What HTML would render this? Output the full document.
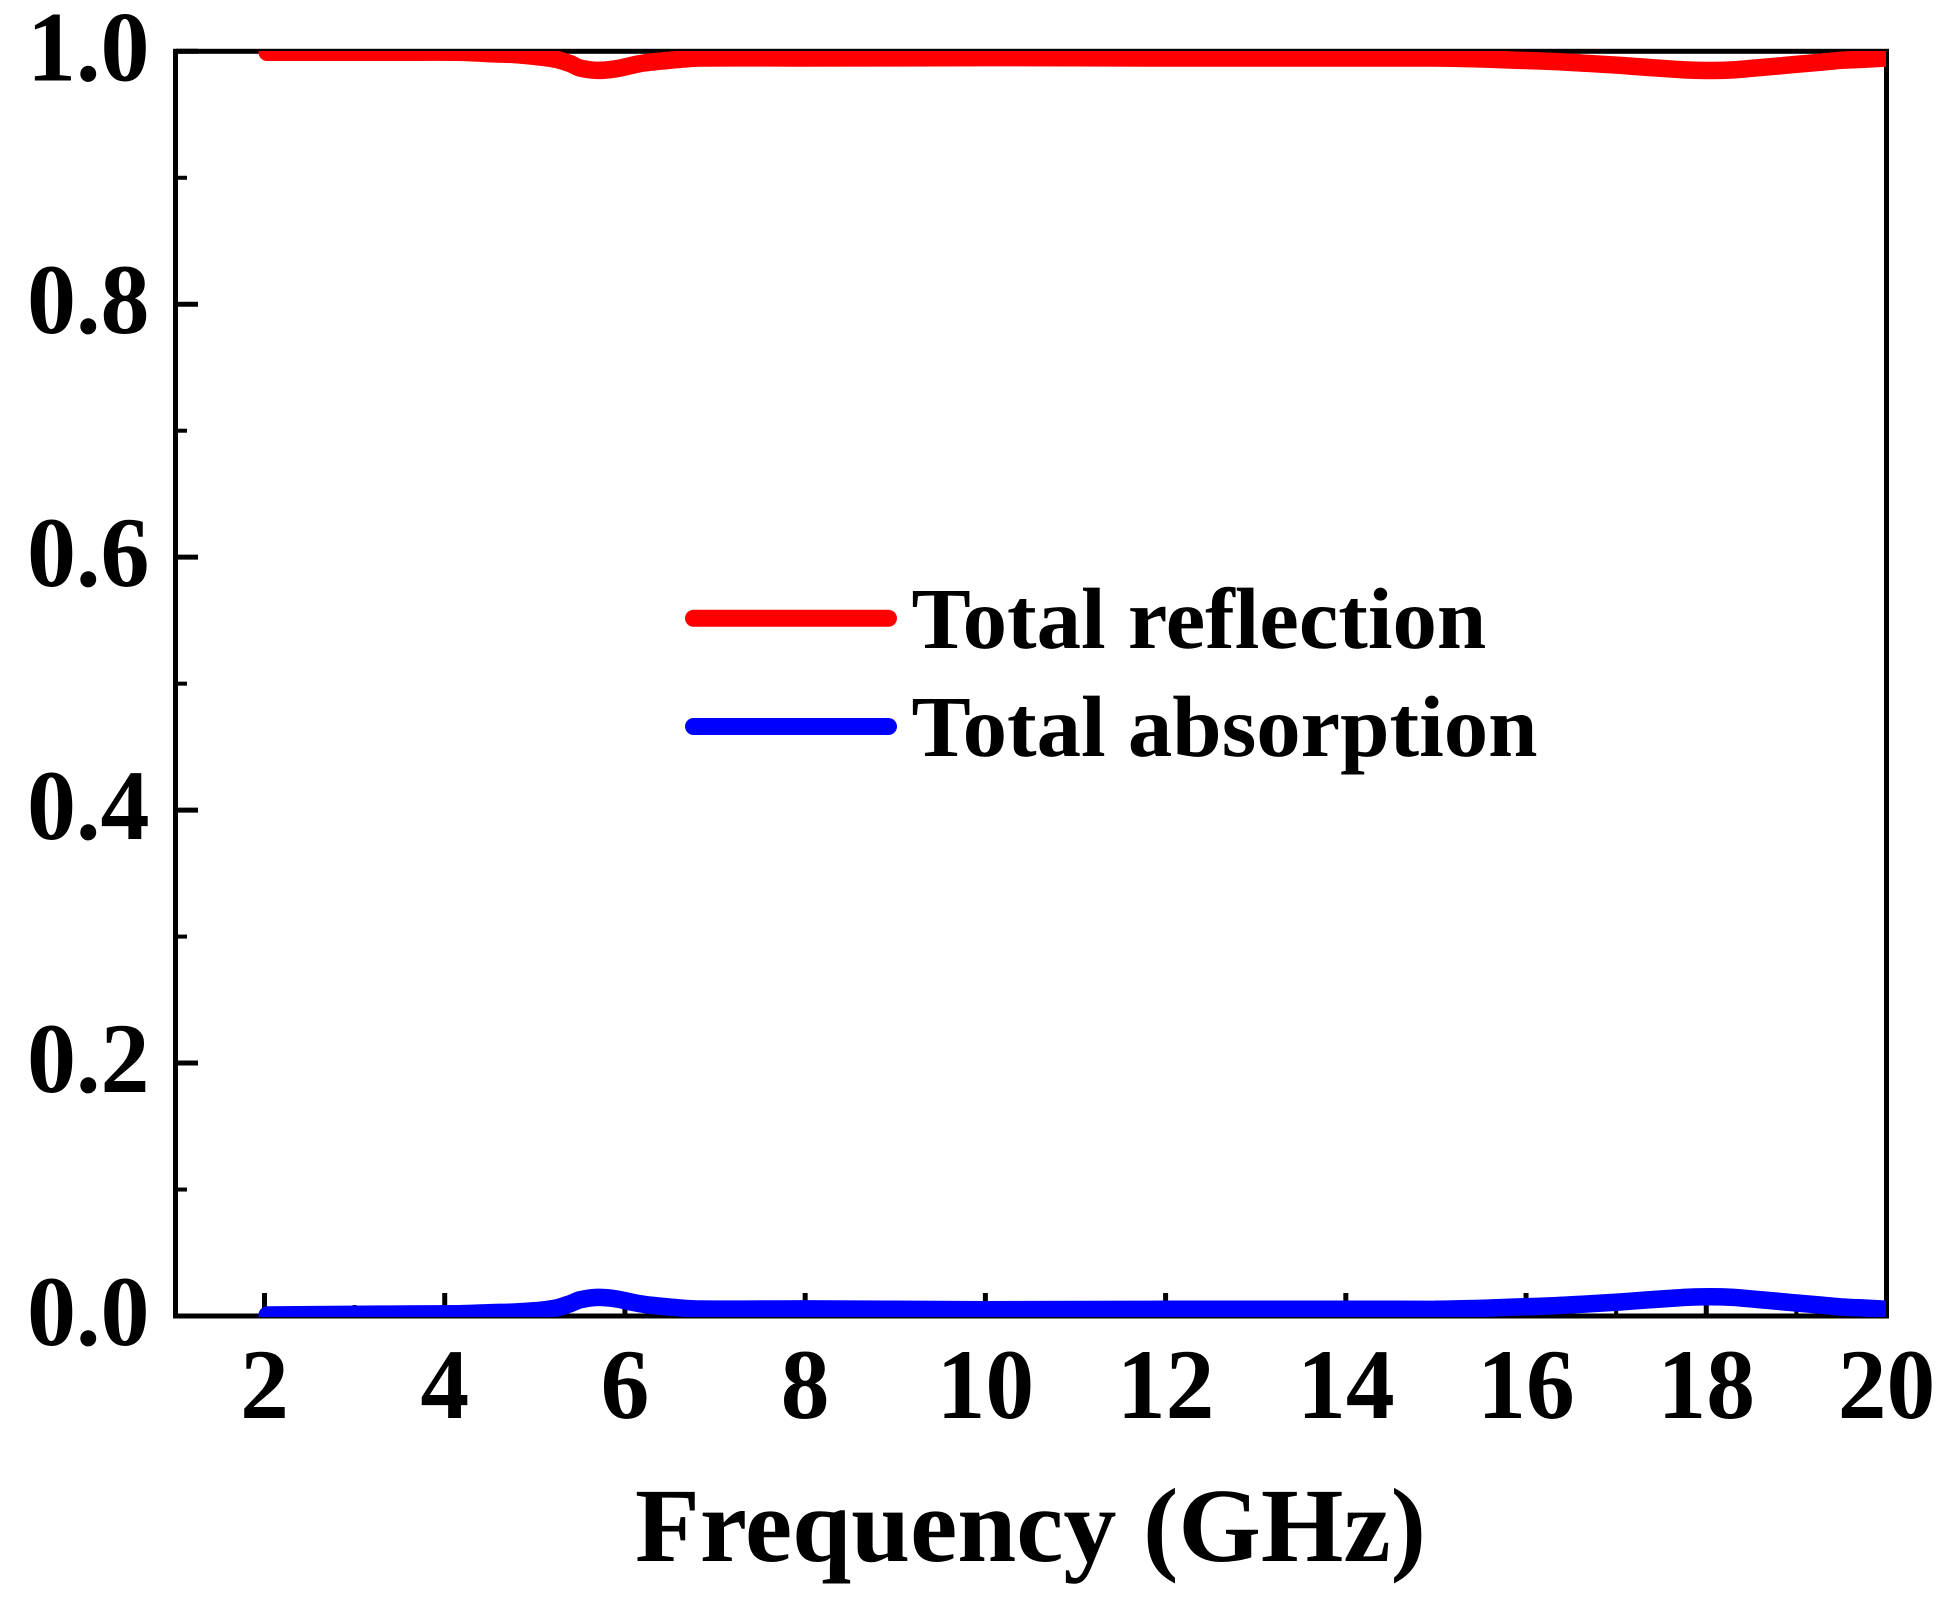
<!DOCTYPE html>
<html lang="en">
<head>
<meta charset="utf-8">
<title>Total reflection and absorption vs frequency</title>
<style>
  html, body { margin: 0; padding: 0; background: #fff; }
  svg { display: block; }
  text { font-family: "Liberation Serif", "Times New Roman", serif; font-weight: 700; fill: #000; text-rendering: geometricPrecision; }
</style>
</head>
<body>
<svg id="chart" xmlns="http://www.w3.org/2000/svg" width="1947" height="1606" viewBox="0 0 1947 1606">
  <rect x="0" y="0" width="1947" height="1606" fill="#ffffff"/>
  <defs>
    <clipPath id="plot-clip"><rect x="175.5" y="51" width="1710.5" height="1266"/></clipPath>
  </defs>
  <g id="ticks"></g>
  <rect x="175.5" y="51.3" width="1711" height="1264.7" fill="none" stroke="#000" stroke-width="5"/>
  <g id="labels"></g>
  <g id="series" clip-path="url(#plot-clip)"></g>
  <text transform="translate(635 1561) scale(1.006 1)" font-size="105.5">Frequency (GHz)</text>
  <g>
    <line x1="693.5" y1="618.3" x2="888.5" y2="618.3" stroke="#ff0000" stroke-width="17" stroke-linecap="round"/>
    <text transform="translate(911.5 648) scale(1.021 1)" font-size="87">Total reflection</text>
    <line x1="693.5" y1="726.5" x2="888.5" y2="726.5" stroke="#0000ff" stroke-width="17" stroke-linecap="round"/>
    <text transform="translate(911.5 756) scale(1.021 1)" font-size="87">Total absorption</text>
  </g>
</svg>
<script>
const frequency = [2.03, 3.4, 4.16, 4.48, 4.78, 5.08, 5.25, 5.4, 5.5, 5.7, 5.9, 6.2, 6.58, 6.83, 8, 9, 10, 12, 14, 15, 15.53, 15.82, 16.24, 16.67, 17.04, 17.35, 17.66, 17.8, 18.05, 18.3, 18.47, 18.76, 19, 19.26, 19.5, 19.75, 20];
const totalReflection = [0.9992, 0.9992, 0.9992, 0.9982, 0.9974, 0.9953, 0.9934, 0.9900, 0.9868, 0.9849, 0.9862, 0.9907, 0.9934, 0.9947, 0.9947, 0.9948, 0.9950, 0.9947, 0.9947, 0.9947, 0.9939, 0.9931, 0.9921, 0.9905, 0.9889, 0.9873, 0.9858, 0.9852, 0.9848, 0.9853, 0.9863, 0.9881, 0.9897, 0.9913, 0.9929, 0.9937, 0.9947];
const totalAbsorption = [0.0008, 0.0015, 0.0018, 0.0026, 0.0032, 0.0047, 0.0066, 0.0100, 0.0128, 0.0147, 0.0135, 0.0093, 0.0066, 0.0055, 0.0056, 0.0053, 0.0050, 0.0053, 0.0053, 0.0053, 0.0061, 0.0069, 0.0079, 0.0095, 0.0111, 0.0127, 0.0142, 0.0148, 0.0152, 0.0147, 0.0137, 0.0119, 0.0103, 0.0087, 0.0071, 0.0063, 0.0053];
const xMajorTicks = [2, 4, 6, 8, 10, 12, 14, 16, 18, 20];
const xMinorTicks = [3, 5, 7, 9, 11, 13, 15, 17, 19];
const yMajorTicks = [0, 0.2, 0.4, 0.6, 0.8, 1];
const yMinorTicks = [0.1, 0.3, 0.5, 0.7, 0.9];
const xTickLabels = ["2", "4", "6", "8", "10", "12", "14", "16", "18", "20"];
const yTickLabels = ["0.0", "0.2", "0.4", "0.6", "0.8", "1.0"];

const SVG_NS = "http://www.w3.org/2000/svg";
function xScale(f) { return 264.5 + (f - 2) * 90.11; }
function yScale(v) { return 1316 - v * 1264.7; }

const tickGroup = document.getElementById("ticks");
const labelGroup = document.getElementById("labels");
const seriesGroup = document.getElementById("series");

function addTick(x1, y1, x2, y2, width, name) {
  const t = document.createElementNS(SVG_NS, "line");
  t.setAttribute("x1", x1);
  t.setAttribute("y1", y1);
  t.setAttribute("x2", x2);
  t.setAttribute("y2", y2);
  t.setAttribute("stroke", "#000");
  t.setAttribute("stroke-width", width);
  
  
  tickGroup.appendChild(t);
}
xMajorTicks.forEach(function (f) { addTick(xScale(f), 1316, xScale(f), 1293, 5, "x-major-tick"); });
xMinorTicks.forEach(function (f) { addTick(xScale(f), 1316, xScale(f), 1305, 4, "x-minor-tick"); });
yMajorTicks.forEach(function (v) { addTick(176, yScale(v), 198, yScale(v), 5, "y-major-tick"); });
yMinorTicks.forEach(function (v) { addTick(176, yScale(v), 187, yScale(v), 4, "y-minor-tick"); });

function addLabel(str, x, y, anchor, sx, name) {
  const t = document.createElementNS(SVG_NS, "text");
  t.setAttribute("transform", "translate(" + x + " " + y + ") scale(" + sx + " 1)");
  t.setAttribute("font-size", "100");
  t.setAttribute("text-anchor", anchor);
  
  
  t.textContent = str;
  labelGroup.appendChild(t);
}
xMajorTicks.forEach(function (f, i) { addLabel(xTickLabels[i], xScale(f), 1418, "middle", 0.975, "x-tick-label"); });
yMajorTicks.forEach(function (v, i) { addLabel(yTickLabels[i], 149.5, yScale(v) + 29, "end", 0.98, "y-tick-label"); });

function smoothPath(values) {
  const pts = frequency.map(function (f, i) { return [xScale(f), yScale(values[i])]; });
  let d = "M" + pts[0][0].toFixed(1) + " " + pts[0][1].toFixed(1);
  for (let i = 0; i < pts.length - 1; i++) {
    const p0 = pts[Math.max(i - 1, 0)];
    const p1 = pts[i];
    const p2 = pts[i + 1];
    const p3 = pts[Math.min(i + 2, pts.length - 1)];
    const seg = p2[0] - p1[0];
    const m1 = (p2[1] - p0[1]) / (p2[0] - p0[0]);
    const m2 = (p3[1] - p1[1]) / (p3[0] - p1[0]);
    d += " C" + (p1[0] + seg / 3).toFixed(1) + " " + (p1[1] + m1 * seg / 3).toFixed(1) +
         " " + (p2[0] - seg / 3).toFixed(1) + " " + (p2[1] - m2 * seg / 3).toFixed(1) +
         " " + p2[0].toFixed(1) + " " + p2[1].toFixed(1);
  }
  return d;
}

function addSeries(values, color, name) {
  const p = document.createElementNS(SVG_NS, "path");
  p.setAttribute("d", smoothPath(values));
  p.setAttribute("fill", "none");
  p.setAttribute("stroke", color);
  p.setAttribute("stroke-width", "17.5");
  p.setAttribute("stroke-linecap", "round");
  p.setAttribute("stroke-linejoin", "round");
  
  
  seriesGroup.appendChild(p);
}
addSeries(totalReflection, "#ff0000", "total-reflection-line");
addSeries(totalAbsorption, "#0000ff", "total-absorption-line");
</script>
</body>
</html>
